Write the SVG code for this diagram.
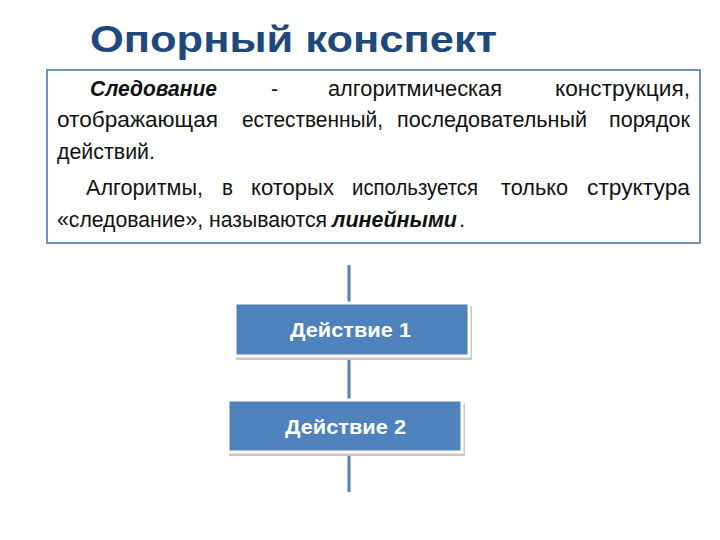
<svg xmlns="http://www.w3.org/2000/svg" width="720" height="540" viewBox="0 0 720 540">
<style>
.t{font-family:"Liberation Sans",Arial,sans-serif;font-size:22px;fill:#111}
.bi{font-weight:bold;font-style:italic}
.title{font-family:"Liberation Sans",Arial,sans-serif;font-size:37px;font-weight:bold;fill:#1F497D}
.node{fill:#4F81BD;stroke:#fff;stroke-width:3}
.shadow{fill:#c8c8c8}
.lbl{font-family:"Liberation Sans",Arial,sans-serif;font-size:21px;font-weight:bold;fill:#fff}
.conn{stroke:#4F81BD;stroke-width:3;fill:none}
</style>
<rect width="720" height="540" fill="#fff"/>
<text class="title" x="90" y="52" textLength="407" lengthAdjust="spacingAndGlyphs">Опорный конспект</text>
<g id="definition">
<rect x="47" y="70" width="653" height="173" fill="#fff" stroke="#6F92B8" stroke-width="2"/>
<g class="t">
<text x="90" y="96" class="bi" textLength="127" lengthAdjust="spacingAndGlyphs">Следование</text>
<text x="271" y="96" textLength="7" lengthAdjust="spacingAndGlyphs">-</text>
<text x="328" y="96" textLength="174" lengthAdjust="spacingAndGlyphs">алгоритмическая</text>
<text x="555" y="96" textLength="135" lengthAdjust="spacingAndGlyphs">конструкция,</text>
<text x="57" y="127" textLength="161" lengthAdjust="spacingAndGlyphs">отображающая</text>
<text x="242" y="127" textLength="141" lengthAdjust="spacingAndGlyphs">естественный,</text>
<text x="397" y="127" textLength="190" lengthAdjust="spacingAndGlyphs">последовательный</text>
<text x="609" y="127" textLength="81" lengthAdjust="spacingAndGlyphs">порядок</text>
<text x="57" y="159" textLength="98" lengthAdjust="spacingAndGlyphs">действий.</text>
<text x="86" y="195" textLength="117" lengthAdjust="spacingAndGlyphs">Алгоритмы,</text>
<text x="222" y="195" textLength="11" lengthAdjust="spacingAndGlyphs">в</text>
<text x="251" y="195" textLength="83" lengthAdjust="spacingAndGlyphs">которых</text>
<text x="352" y="195" textLength="126" lengthAdjust="spacingAndGlyphs">используется</text>
<text x="501" y="195" textLength="67" lengthAdjust="spacingAndGlyphs">только</text>
<text x="587" y="195" textLength="103" lengthAdjust="spacingAndGlyphs">структура</text>
<text x="57" y="227" textLength="270" lengthAdjust="spacingAndGlyphs">«следование», называются</text>
<text x="332" y="227" class="bi" textLength="125" lengthAdjust="spacingAndGlyphs">линейными</text>
<text x="459" y="227">.</text>
</g>
</g>
<g id="connectors">
<line class="conn" x1="349" y1="265" x2="349" y2="303"/>
<line class="conn" x1="349" y1="357" x2="349" y2="400"/>
<line class="conn" x1="349" y1="453" x2="349" y2="492"/>
</g>
<g id="action1">
<rect class="shadow" x="236" y="306" width="236" height="54" rx="1"/>
<rect class="node" x="235" y="303" width="234" height="53"/>
<text class="lbl" x="290" y="337" textLength="121" lengthAdjust="spacingAndGlyphs">Действие 1</text>
</g>
<g id="action2">
<rect class="shadow" x="229" y="403" width="236" height="53" rx="1"/>
<rect class="node" x="228" y="400" width="234" height="52"/>
<text class="lbl" x="285" y="434" textLength="121" lengthAdjust="spacingAndGlyphs">Действие 2</text>
</g>
</svg>
